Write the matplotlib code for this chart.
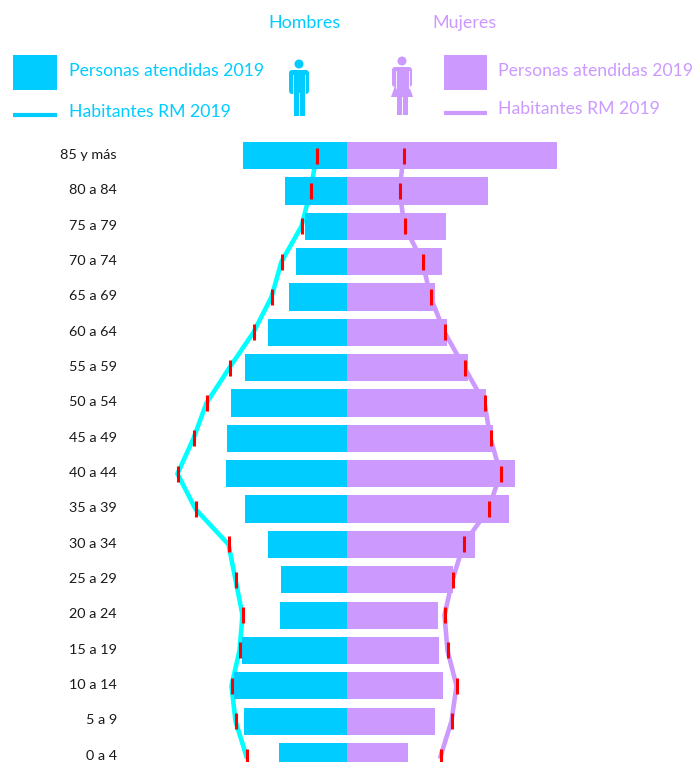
import matplotlib
matplotlib.use("Agg")
import matplotlib.pyplot as plt
import matplotlib.patches as mpatches

plt.rcParams['font.family'] = ['Lato', 'DejaVu Sans']

edades = ["85 y más", "80 a 84", "75 a 79", "70 a 74", "65 a 69", "60 a 64", "55 a 59", "50 a 54", "45 a 49",
          "40 a 44", "35 a 39", "30 a 34", "25 a 29", "20 a 24", "15 a 19", "10 a 14", "5 a 9", "0 a 4"]

# valores, en pixeles desde el eje central
atendidos_h = [104, 62, 42, 51, 58, 79, 102, 116, 120, 121, 102, 79, 66, 67, 105, 113, 103, 68]
atendidos_m = [210, 141, 99, 95, 88, 100, 121, 139, 146, 168, 162, 128, 106, 91, 92, 96, 88, 61]
habitantes_h = [30, 36, 45, 65, 75, 93, 117, 140, 153, 169, 151, 118, 111, 104, 107, 115, 111, 100]
habitantes_m = [57, 53, 58, 76, 84, 98, 118, 138, 144, 154, 142, 117, 106, 98, 101, 110, 105, 94]

CYAN = "#00CCFF"
LILA = "#CC99FF"
LINEA_H = "#00FFFF"
ROJO = "#FF0000"

fig = plt.figure(figsize=(6.95, 7.62), dpi=100)
ax = fig.add_axes([0, 0, 1, 1])
ax.set_xlim(-346.5, 348.5)
ax.set_ylim(17.155, -4.4)
ax.axis("off")

y = list(range(len(edades)))
neg_bar = [-v for v in atendidos_h]
neg_hab = [-v for v in habitantes_h]

ax.plot(neg_hab, y, color=LINEA_H, lw=3.3, zorder=1, solid_joinstyle="miter")
ax.plot(habitantes_m, y, color=LILA, lw=3.3, zorder=1, solid_joinstyle="miter")
ax.barh(y, neg_bar, height=0.77, color=CYAN, zorder=2)
ax.barh(y, atendidos_m, height=0.77, color=LILA, zorder=2)
ax.plot(neg_hab, y, ls="none", marker="|", ms=11.5, mew=2.2, color=ROJO, zorder=3)
ax.plot(habitantes_m, y, ls="none", marker="|", ms=11.5, mew=2.2, color=ROJO, zorder=3)

for i in y:
    ax.text(-229.5, i - 0.02, edades[i], fontsize=10.4, color="#1a1a1a", ha="right", va="center")

# encabezado y leyenda en coordenadas de pixel
top = fig.add_axes([0, 0, 1, 1])
top.set_xlim(0, 695)
top.set_ylim(762, 0)
top.axis("off")
top.patch.set_alpha(0)

top.text(305, 23, "Hombres", color=CYAN, fontsize=12.9, ha="center", va="center")
top.text(465, 23, "Mujeres", color=LILA, fontsize=12.9, ha="center", va="center")

top.add_patch(mpatches.Rectangle((13, 55), 44, 35, color=CYAN, lw=0))
top.add_patch(mpatches.Rectangle((444, 55), 43, 35, color=LILA, lw=0))
top.plot([13, 57], [115, 115], color=CYAN, lw=3, solid_capstyle="butt")
top.plot([444, 487], [113, 113], color=LILA, lw=3, solid_capstyle="butt")
top.text(69, 71, "Personas atendidas 2019", color=CYAN, fontsize=12.7, ha="left", va="center")
top.text(69, 112, "Habitantes RM 2019", color=CYAN, fontsize=12.7, ha="left", va="center")
top.text(498, 71, "Personas atendidas 2019", color=LILA, fontsize=12.7, ha="left", va="center")
top.text(498, 109, "Habitantes RM 2019", color=LILA, fontsize=12.7, ha="left", va="center")

# hombre
top.add_patch(mpatches.Circle((299, 64), 4.5, color=CYAN, lw=0))
top.add_patch(mpatches.FancyBboxPatch((289, 70), 20, 24, boxstyle="round,pad=0,rounding_size=3", color=CYAN, lw=0))
top.add_patch(mpatches.Rectangle((293.5, 90), 11, 26, color=CYAN, lw=0))
top.plot([299, 299], [93, 116], color="white", lw=0.7)
top.plot([293, 293], [75, 95], color="white", lw=0.6)
top.plot([305, 305], [75, 95], color="white", lw=0.6)

# mujer
top.add_patch(mpatches.Circle((402, 61), 4.5, color=LILA, lw=0))
top.add_patch(mpatches.FancyBboxPatch((392, 67), 20, 20, boxstyle="round,pad=0,rounding_size=3", color=LILA, lw=0))
top.add_patch(mpatches.Polygon([(397, 80), (407, 80), (413, 97), (391, 97)], color=LILA, lw=0))
top.add_patch(mpatches.Rectangle((396.5, 96), 11, 19, color=LILA, lw=0))
top.plot([402, 402], [97, 115], color="white", lw=0.7)
top.plot([395.5, 395.5], [71, 88], color="white", lw=0.6)
top.plot([408.5, 408.5], [71, 88], color="white", lw=0.6)

fig.savefig("out.png", dpi=100)
